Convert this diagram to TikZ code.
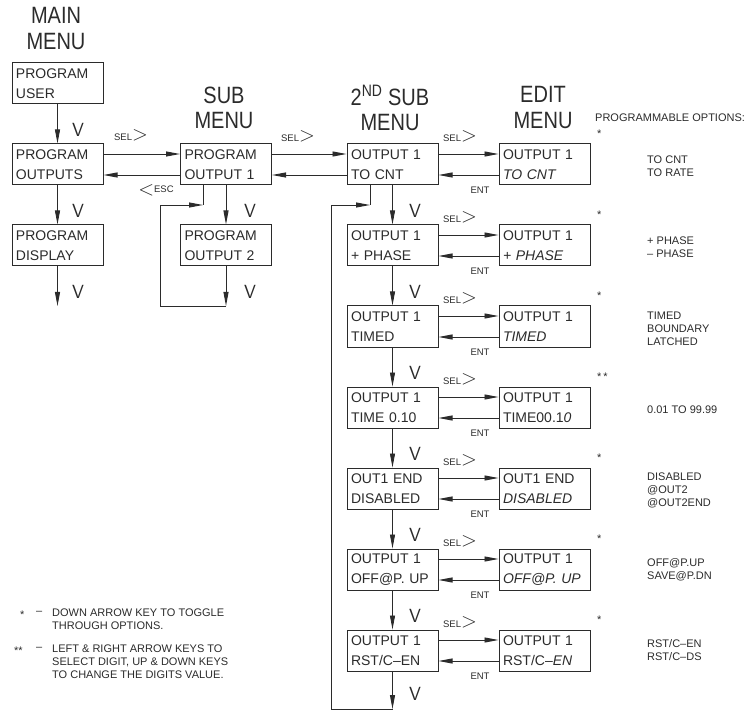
\documentclass[tikz,border=0pt]{standalone}
\usepackage{fontspec}
\setmainfont{Liberation Sans}
\usetikzlibrary{arrows.meta,positioning}
\definecolor{ink}{HTML}{2B2B2B}
\newcommand{\boxfont}{\fontsize{14}{20}\selectfont}
\newcommand{\headfont}{\fontsize{20}{25}\selectfont}
\newcommand{\keyfont}{\fontsize{9.5}{10}\selectfont}
\newcommand{\optfont}{\fontsize{11}{13}\selectfont}
\newcommand{\vfont}{\sffamily\fontsize{19}{19}\selectfont}
\newcommand{\tall}[1]{\scalebox{1}[1.18]{#1}}
\newcommand{\selkey}{SEL{\fontsize{20}{20}\selectfont$>$}}
\newcommand{\esckey}{{\fontsize{20}{20}\selectfont$<$}\raisebox{3pt}{ESC}}

\begin{document}
\begin{tikzpicture}[x=1pt,y=-1pt,color=ink,
  menubox/.style={draw,line width=1pt,minimum width=91pt,minimum height=41pt,text width=83pt,inner xsep=4pt,inner ysep=0pt,align=left,font=\boxfont},
  head/.style={align=center,font=\headfont,inner sep=0pt},
  flow/.style={line width=0.9pt,-{Triangle[length=14pt,width=5pt]}},
  link/.style={line width=0.9pt},
  keylab/.style={font=\keyfont,inner sep=0pt},
  vkey/.style={font=\vfont,inner sep=0pt},
  opts/.style={anchor=west,align=left,font=\optfont,inner sep=0pt}]
  \useasboundingbox (0,0) rectangle (755,711);

  % main menu
  \node[head] (hmain) at (56,28.5) {\tall{MAIN}\\[2pt]\tall{MENU}};
  \node[menubox] (mainuser) at (57.5,83.5) {PROGRAM\\USER};
  \node[menubox] (mainout) at (57.5,164.5) {PROGRAM\\OUTPUTS};
  \node[menubox] (maindisp) at (57.5,245.5) {PROGRAM\\DISPLAY};
  \coordinate (mainend) at (57.5,306);
  \draw[flow] (mainuser) -- (mainout); \draw[flow] (mainout) -- (maindisp); \draw[flow] (maindisp) -- (mainend);
  \node[vkey] (mv1) at (78,130) {V}; \node[vkey] (mv2) at (78,211) {V}; \node[vkey] (mv3) at (78,292) {V};

  % sub menu
  \node[head] (hsub) at (224,107.5) {\tall{SUB}\\\tall{MENU}};
  \node[menubox] (subout1) at (226,164.5) {PROGRAM\\OUTPUT 1};
  \node[menubox] (subout2) at (226,245.5) {PROGRAM\\OUTPUT 2};
  \coordinate (subjoin) at (203,205); \coordinate (subturn) at (160,205); \coordinate (subend) at (226,306);
  \draw[flow] ([yshift=10.5pt]mainout.east) -- ([yshift=10.5pt]subout1.west);
  \draw[flow] ([yshift=-10.5pt]subout1.west) -- ([yshift=-10.5pt]mainout.east);
  \node[keylab] (selmain) at (131,135) {\selkey};
  \node[keylab] (escsub) at (156,190) {\esckey};
  \draw[flow] (subout1) -- (subout2); \draw[flow] (subout2) -- (subend);
  \draw[link] (subjoin |- subout1.south) -- (subjoin);
  \draw[flow] (subend) -| (subturn) -- (subjoin);
  \node[vkey] (subv1) at (250,211) {V}; \node[vkey] (subv2) at (250,292) {V};

  % 2nd sub menu
  \node[head] (hsec) at (390,107.5) {\tall{2\textsuperscript{ND} SUB}\\\tall{MENU}};
  \node[menubox] (sec1) at (392.5,164.5) {OUTPUT 1\\TO CNT};
  \node[menubox] (sec2) at (392.5,245.5) {OUTPUT 1\\+ PHASE};
  \node[menubox] (sec3) at (392.5,326.5) {OUTPUT 1\\TIMED};
  \node[menubox] (sec4) at (392.5,407.5) {OUTPUT 1\\TIME 0.10};
  \node[menubox] (sec5) at (392.5,488.5) {OUT1 END\\DISABLED};
  \node[menubox] (sec6) at (392.5,569.5) {OUTPUT 1\\OFF@P. UP};
  \node[menubox] (sec7) at (392.5,650.5) {OUTPUT 1\\RST/C–EN};
  \draw[flow] ([yshift=10.5pt]subout1.east) -- ([yshift=10.5pt]sec1.west);
  \draw[flow] ([yshift=-10.5pt]sec1.west) -- ([yshift=-10.5pt]subout1.east);
  \node[keylab] (selsub) at (298,136) {\selkey};
  \coordinate (secjoin) at (370,205); \coordinate (secturn) at (331,205); \coordinate (secend) at (392.5,709);
  \foreach \i [evaluate=\i as \j using int(\i+1)] in {1,...,6} \draw[flow] (sec\i) -- (sec\j);
  \draw[flow] (sec7) -- (secend);
  \draw[link] (secjoin |- sec1.south) -- (secjoin);
  \draw[flow] (secend) -| (secturn) -- (secjoin);
  \foreach \i [evaluate=\i as \y using 164.5+81*(\i-1)] in {2,...,7} \node[vkey] (secv\i) at (415,\y-34.5) {V};
  \node[vkey] (secv8) at (415,694) {V};

  % edit menu
  \node[head] (hedit) at (543,107.5) {\tall{EDIT}\\\tall{MENU}};
  \node[menubox] (edit1) at (544.5,164.5) {OUTPUT 1\\\textit{TO CNT}};
  \node[menubox] (edit2) at (544.5,245.5) {OUTPUT 1\\\textit{+ PHASE}};
  \node[menubox] (edit3) at (544.5,326.5) {OUTPUT 1\\\textit{TIMED}};
  \node[menubox] (edit4) at (544.5,407.5) {OUTPUT 1\\TIME00.1\textit{0}};
  \node[menubox] (edit5) at (544.5,488.5) {OUT1 END\\\textit{DISABLED}};
  \node[menubox] (edit6) at (544.5,569.5) {OUTPUT 1\\\textit{OFF@P. UP}};
  \node[menubox] (edit7) at (544.5,650.5) {OUTPUT 1\\RST/C–\textit{EN}};
  \foreach \i [evaluate=\i as \y using 164.5+81*(\i-1)] in {1,...,7}{
    \draw[flow] ([yshift=10.5pt]sec\i.east) -- ([yshift=10.5pt]edit\i.west);
    \draw[flow] ([yshift=-10.5pt]edit\i.west) -- ([yshift=-10.5pt]sec\i.east);
    \node[keylab] (sel\i) at (460,\y-28.5) {\selkey};
    \node[keylab] (ent\i) at (480,\y+26) {ENT};
  }

  % options
  \node[opts] (progopt) at (595,118) {PROGRAMMABLE OPTIONS:};
  \foreach \i/\s [evaluate=\i as \y using 164.5+81*(\i-1)] in {1/*,2/*,3/*,4/{*\,*},5/*,6/*,7/*}
    \node[opts] (star\i) at (597,\y-31) {\s};
  \node[opts] (opt1) at (647,166.5) {TO CNT\\TO RATE};
  \node[opts] (opt2) at (647,247.5) {+ PHASE\\– PHASE};
  \node[opts] (opt3) at (647,328.5) {TIMED\\BOUNDARY\\LATCHED};
  \node[opts] (opt4) at (647,409.5) {0.01 TO 99.99};
  \node[opts] (opt5) at (647,490.5) {DISABLED\\@OUT2\\@OUT2END};
  \node[opts] (opt6) at (647,569.5) {OFF@P.UP\\SAVE@P.DN};
  \node[opts] (opt7) at (647,650.5) {RST/C–EN\\RST/C–DS};

  % notes
  \node[opts] (mark1) at (20,615) {*}; \node[opts] (dash1) at (36,613) {–};
  \node[opts] (note1) at (52,619.5) {DOWN ARROW KEY TO TOGGLE\\THROUGH OPTIONS.};
  \node[opts] (mark2) at (14,651) {**}; \node[opts] (dash2) at (36,649) {–};
  \node[opts] (note2) at (52,662) {LEFT \& RIGHT ARROW KEYS TO\\SELECT DIGIT, UP \& DOWN KEYS\\TO CHANGE THE DIGITS VALUE.};
\end{tikzpicture}
\end{document}
